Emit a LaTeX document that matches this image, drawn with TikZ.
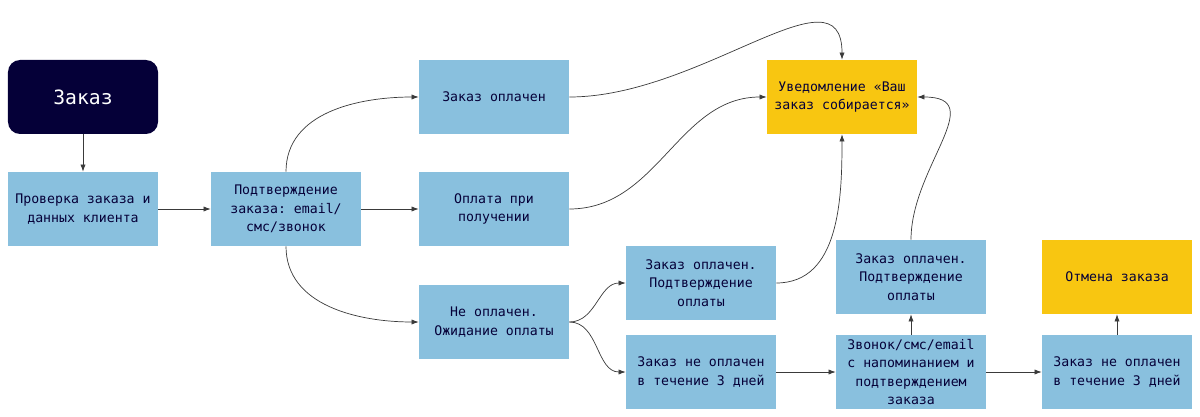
\documentclass[tikz,border=0pt]{standalone}
\usepackage{fontspec}
\setmonofont{DejaVu Sans Mono}
\usetikzlibrary{arrows.meta}
\definecolor{miroSin}{HTML}{89C0DE}
\definecolor{miroZhelt}{HTML}{F8C611}
\definecolor{miroTemn}{HTML}{050038}
\definecolor{miroLiniya}{HTML}{3A3A3A}
\tikzset{
  shag/.style={rectangle, fill=miroSin, minimum width=3.75cm, minimum height=1.85cm,
    align=center, text=miroTemn, inner sep=1pt,
    font=\ttfamily\fontsize{9.4}{13}\selectfont},
  itog/.style={shag, fill=miroZhelt},
  nachalo/.style={shag, fill=miroTemn, text=white, rounded corners=0.3cm,
    font=\ttfamily\fontsize{14}{16}\selectfont},
  strelka/.style={-{Latex[length=1.8mm,width=1.3mm]}, line width=0.5pt, miroLiniya},
}

\begin{document}
\begin{tikzpicture}
    \useasboundingbox (0,0) rectangle (30,-10.425);
    % levaya chast
    \node[nachalo] (zakaz) at (2.075,-2.425) {Заказ};
    \node[shag] (prov) at (2.075,-5.225) {Проверка заказа и\\данных клиента};
    \node[shag] (podtv) at (7.15,-5.225) {Подтверждение\\заказа: email/\\смс/звонок};
    % varianty oplaty
    \node[shag] (opl) at (12.35,-2.425) {Заказ оплачен};
    \node[shag] (pripol) at (12.35,-5.225) {Оплата при\\получении};
    \node[shag] (neopl) at (12.35,-8.05) {Не оплачен.\\Ожидание оплаты};
    \node[itog] (uved) at (21.05,-2.425) {Уведомление «Ваш\\заказ собирается»};
    % ozhidanie
    \node[shag] (opl2) at (17.525,-7.075) {Заказ оплачен.\\Подтверждение\\оплаты};
    \node[shag] (nedn) at (17.525,-9.3) {Заказ не оплачен\\в течение 3 дней};
    \node[shag] (opl3) at (22.775,-6.925) {Заказ оплачен.\\Подтверждение\\оплаты};
    \node[shag] (zvonok) at (22.775,-9.3) {Звонок/смс/email\\с напоминанием и\\подтверждением\\заказа};
    \node[itog] (otmena) at (27.925,-6.925) {Отмена заказа};
    \node[shag] (nedn2) at (27.925,-9.3) {Заказ не оплачен\\в течение 3 дней};

    \draw[strelka] (zakaz) -- (prov);
    \draw[strelka] (prov) -- (podtv);
    \draw[strelka] (podtv) -- (pripol);
    \draw[strelka] (podtv.north) to[out=90,in=180] (opl.west);
    \draw[strelka] (podtv.south) to[out=-90,in=180] (neopl.west);
    \draw[strelka] (opl.east) .. controls +(3.3,0) and +(0,2.4) .. (uved.north);
    \draw[strelka] (pripol.east) to[out=0,in=180] (uved.west);
    \draw[strelka] (neopl.east) to[out=0,in=180] (opl2.west);
    \draw[strelka] (neopl.east) to[out=0,in=180] (nedn.west);
    \draw[strelka] (opl2.east) to[out=0,in=-90] (uved.south);
    \draw[strelka] (opl3.north) to[out=90,in=0,looseness=1.3] (uved.east);
    \draw[strelka] (nedn) -- (zvonok);
    \draw[strelka] (zvonok) -- (opl3);
    \draw[strelka] (zvonok) -- (nedn2);
    \draw[strelka] (nedn2) -- (otmena);
\end{tikzpicture}
\end{document}
